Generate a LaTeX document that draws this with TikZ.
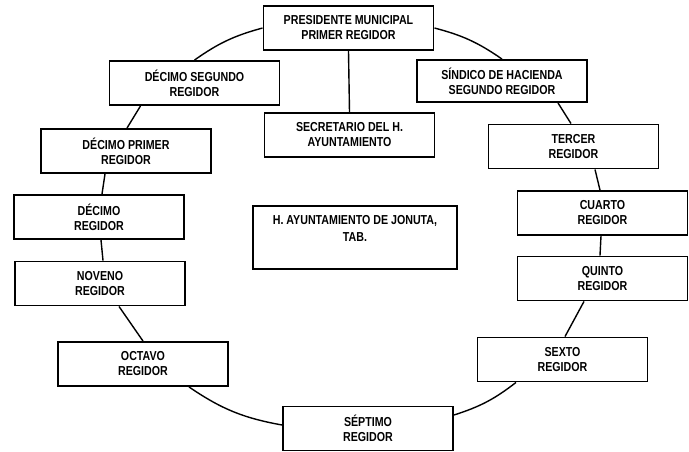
\documentclass[tikz,border=0pt]{standalone}
\usepackage{fontspec}
\setmainfont[FakeStretch=0.82]{Liberation Sans}
\usetikzlibrary{calc}
\begin{document}
\begin{tikzpicture}[x=1pt,y=-1pt,
  box/.style={draw=black, line width=1.9pt, fill=white, minimum width=170pt,
    minimum height=44pt, align=center, inner sep=0pt,
    font=\fontsize{13}{15}\selectfont\bfseries},
  boxtext/.style={align=center, inner sep=0pt,
    font=\fontsize{13}{17.5}\selectfont\bfseries},
  link/.style={draw=black, line width=1.4pt}]
\useasboundingbox (0,0) rectangle (689,451);
\fill[white] (0,0) rectangle (689,451);

\node[box] (pres)   at (348.5,28)  {PRESIDENTE MUNICIPAL\\PRIMER REGIDOR};
\node[box] (dec12)  at (194.5,83)  {DÉCIMO SEGUNDO\\REGIDOR};
\node[box, minimum height=42pt] (sind) at (502,81) {SÍNDICO DE HACIENDA\\SEGUNDO REGIDOR};
\node[box] (secr)   at (349.5,135) {SECRETARIO DEL H.\\AYUNTAMIENTO};
\node[box] (dec11)  at (126,151)   {DÉCIMO PRIMER\\REGIDOR};
\node[box] (terc)   at (573.5,146.5) {TERCER\\REGIDOR};
\node[box] (dec10)  at (99,217)    {DÉCIMO\\REGIDOR};
\node[box, minimum width=204pt, minimum height=63pt] (ayunt) at (355,237.5) {};
\node[boxtext, anchor=north] (ayunttext) at ($(ayunt.north)+(0,10)$) {H. AYUNTAMIENTO DE JONUTA,\\TAB.};
\node[box] (cuarto) at (602.5,213) {CUARTO\\REGIDOR};
\node[box] (noveno) at (100,283.5) {NOVENO\\REGIDOR};
\node[box] (quinto) at (602.5,278.5) {QUINTO\\REGIDOR};
\node[box] (octavo) at (143,364)   {OCTAVO\\REGIDOR};
\node[box] (sexto)  at (562.5,359.5) {SEXTO\\REGIDOR};
\node[box] (sept)   at (368,428.5) {SÉPTIMO\\REGIDOR};

\draw[link] (pres.west) to[bend right=10] (dec12.north);
\draw[link] (pres.east) to[bend left=10] (sind.north);
\draw[link] (pres.south) -- (secr.north);
\draw[link] ($(dec12.south)+(-54,0)$) -- ($(dec11.north)+(1,0)$);
\draw[link] ($(sind.south)+(56,0)$) -- ($(terc.north)+(-2.5,0)$);
\draw[link] ($(dec11.south)+(-21,0)$) -- ($(dec10.north)+(3,0)$);
\draw[link] ($(terc.south)+(21.5,0)$) -- ($(cuarto.north)+(-2.5,0)$);
\draw[link] ($(dec10.south)+(2,0)$) -- ($(noveno.north)+(3,0)$);
\draw[link] ($(cuarto.south)+(-1.5,0)$) -- ($(quinto.north)+(-2.5,0)$);
\draw[link] ($(noveno.south)+(19,0)$) -- (octavo.north);
\draw[link] ($(quinto.south)+(-18.5,0)$) -- ($(sexto.north)+(2.5,0)$);
\draw[link] ($(octavo.south)+(46,0)$) to[bend right=12] ($(sept.west)+(0,-3.5)$);
\draw[link] ($(sexto.south)+(-46.5,0)$) to[bend left=10] ($(sept.east)+(0,-13.5)$);
\end{tikzpicture}
\end{document}
